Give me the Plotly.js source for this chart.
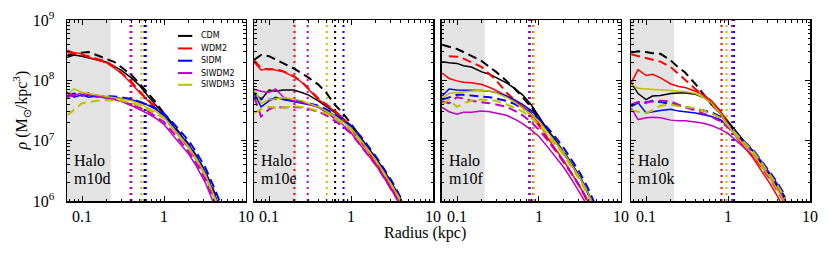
<!DOCTYPE html>
<html><head><meta charset="utf-8">
<script src="https://cdn.plot.ly/plotly-3.0.1.min.js"></script>
<style>html,body{margin:0;padding:0;background:#fff}#chart{width:830px;height:254px}</style>
</head><body><div id="chart"></div>
<script>
// ---------------- DATA ----------------
const radius = [0.066,0.08,0.1,0.12,0.15,0.2,0.25,0.3,0.4,0.5,0.63,0.8,1.0,1.3,1.6,2.0,2.5,3.2,4.0,5.0];
const models = ['CDM','WDM2','SIDM','SIWDM2','SIWDM3'];
const halos = ['m10d','m10e','m10f','m10k'];
const xTickVals = [0.1,1,10];
const xTickText = ['0.1','1','10'];
const xMinorTicks = [0.07,0.08,0.09,0.2,0.3,0.4,0.5,0.6,0.7,0.8,0.9,2,3,4,5,6,7,8,9];
const yTickVals = [1e6,1e7,1e8,1e9];
const yTickText = ['10<sup>6</sup>','10<sup>7</sup>','10<sup>8</sup>','10<sup>9</sup>'];
const yMinorTicks = [2e6,3e6,4e6,5e6,6e6,7e6,8e6,9e6,2e7,3e7,4e7,5e7,6e7,7e7,8e7,9e7,2e8,3e8,4e8,5e8,6e8,7e8,8e8,9e8];

// halo m10d
const m10d_CDM_solid    = [2.4e8,2.63e8,2.51e8,2.34e8,2.19e8,2.0e8,1.7e8,1.48e8,1.1e8,8.3e7,5.6e7,3.9e7,2.7e7,1.74e7,1.23e7,8.5e6,5.4e6,2.95e6,1.41e6,6.6e5];
const m10d_CDM_dash     = [2.57e8,2.75e8,2.88e8,2.95e8,2.63e8,2.29e8,2.0e8,1.66e8,1.23e8,8.9e7,6.3e7,4.27e7,2.82e7,1.82e7,1.26e7,8.7e6,5.5e6,3.0e6,1.51e6,7.1e5];
const m10d_WDM2_solid   = [3.16e8,2.88e8,2.75e8,2.4e8,2.19e8,1.95e8,1.58e8,1.32e8,8.9e7,6.3e7,4.68e7,3.39e7,2.51e7,1.58e7,1.12e7,7.6e6,4.8e6,2.63e6,1.26e6,6.0e5];
const m10d_WDM2_dash    = [2.95e8,2.75e8,2.63e8,2.51e8,2.29e8,2.04e8,1.66e8,1.35e8,9.5e7,6.6e7,4.79e7,3.47e7,2.57e7,1.62e7,1.15e7,7.8e6,4.9e6,2.69e6,1.29e6,6.2e5];
const m10d_SIDM_solid   = [6.3e7,5.25e7,5.75e7,5.25e7,5.5e7,5.37e7,5.25e7,5.0e7,4.79e7,4.37e7,3.89e7,3.31e7,2.63e7,1.74e7,1.23e7,8.5e6,5.4e6,2.95e6,1.41e6,6.6e5];
const m10d_SIDM_dash    = [5.5e7,6.03e7,5.62e7,5.75e7,5.37e7,5.5e7,5.37e7,5.25e7,4.9e7,4.47e7,3.98e7,3.39e7,2.82e7,1.95e7,1.41e7,1.0e7,6.3e6,3.55e6,1.78e6,8.5e5];
const m10d_SIWDM2_solid = [6.03e7,5.5e7,6.3e7,5.75e7,5.5e7,5.0e7,4.79e7,4.47e7,3.8e7,3.31e7,2.82e7,2.34e7,1.86e7,1.2e7,8.5e6,6.0e6,3.72e6,2.0e6,9.5e5,4.5e5];
const m10d_SIWDM2_dash  = [5.25e7,5.75e7,5.5e7,6.17e7,5.62e7,5.25e7,4.9e7,4.57e7,3.98e7,3.55e7,3.09e7,2.51e7,2.04e7,1.35e7,9.5e6,6.6e6,4.17e6,2.29e6,1.12e6,5.2e5];
const m10d_SIWDM3_solid = [5.75e7,7.24e7,6.3e7,6.03e7,5.62e7,5.37e7,5.13e7,4.9e7,4.57e7,4.07e7,3.55e7,3.02e7,2.45e7,1.62e7,1.15e7,7.9e6,5.0e6,2.75e6,1.32e6,6.2e5];
const m10d_SIWDM3_dash  = [2.63e7,3.31e7,4.17e7,4.37e7,4.57e7,4.68e7,4.68e7,4.57e7,4.27e7,3.8e7,3.31e7,2.82e7,2.34e7,1.55e7,1.1e7,7.6e6,4.8e6,2.63e6,1.26e6,5.9e5];

// halo m10e
const m10e_CDM_solid    = [6.3e7,4.79e7,6.9e7,6.6e7,6.9e7,6.9e7,6.3e7,5.75e7,4.57e7,3.72e7,2.95e7,2.34e7,1.74e7,1.12e7,7.9e6,5.25e6,3.31e6,1.91e6,1.12e6,6.0e5];
const m10e_CDM_dash     = [2.19e8,2.63e8,2.51e8,2.19e8,1.91e8,1.58e8,1.32e8,1.12e8,8.5e7,6.2e7,3.98e7,2.82e7,1.91e7,1.15e7,7.8e6,5.0e6,3.16e6,1.86e6,1.1e6,5.9e5];
const m10e_WDM2_solid   = [2.0e8,1.48e8,1.55e8,1.48e8,1.38e8,1.15e8,9.3e7,7.2e7,4.79e7,3.89e7,3.09e7,2.29e7,1.58e7,9.8e6,6.8e6,4.27e6,2.63e6,1.51e6,9.1e5,4.8e5];
const m10e_WDM2_dash    = [2.14e8,1.58e8,1.51e8,1.55e8,1.41e8,1.17e8,9.5e7,7.4e7,5.0e7,3.98e7,3.16e7,2.34e7,1.62e7,1.0e7,6.9e6,4.37e6,2.69e6,1.55e6,9.3e5,4.9e5];
const m10e_SIDM_solid   = [6.03e7,3.63e7,4.57e7,5.25e7,4.79e7,4.37e7,4.17e7,3.98e7,3.63e7,3.16e7,2.63e7,2.09e7,1.66e7,1.07e7,7.4e6,4.9e6,3.09e6,1.82e6,1.07e6,5.75e5];
const m10e_SIDM_dash    = [5.25e7,5.0e7,4.79e7,5.0e7,4.9e7,4.68e7,4.47e7,4.17e7,3.8e7,3.31e7,2.75e7,2.24e7,1.78e7,1.2e7,8.3e6,5.5e6,3.47e6,2.04e6,1.17e6,6.3e5];
const m10e_SIWDM2_solid = [7.1e7,6.6e7,6.3e7,7.2e7,5.25e7,4.57e7,4.27e7,4.07e7,3.55e7,2.95e7,2.34e7,1.82e7,1.35e7,8.5e6,6.0e6,3.98e6,2.51e6,1.45e6,8.7e5,4.6e5];
const m10e_SIWDM2_dash  = [5.25e7,2.51e7,3.31e7,3.63e7,3.55e7,3.63e7,3.55e7,3.39e7,3.02e7,2.63e7,2.14e7,1.7e7,1.32e7,8.5e6,6.0e6,3.98e6,2.51e6,1.45e6,8.7e5,4.6e5];
const m10e_SIWDM3_solid = [7.2e7,4.17e7,4.79e7,5.0e7,5.13e7,4.9e7,4.57e7,4.17e7,3.63e7,3.09e7,2.57e7,2.04e7,1.62e7,1.05e7,7.2e6,4.79e6,3.02e6,1.78e6,1.05e6,5.6e5];
const m10e_SIWDM3_dash  = [2.88e7,3.31e7,3.63e7,3.47e7,3.55e7,3.72e7,3.63e7,3.47e7,3.09e7,2.82e7,2.34e7,1.91e7,1.51e7,1.0e7,7.1e6,4.68e6,2.95e6,1.74e6,1.02e6,5.5e5];

// halo m10f
const m10f_CDM_solid    = [2.04e8,1.95e8,1.91e8,1.74e8,1.66e8,1.38e8,1.26e8,1.12e8,9.1e7,7.4e7,5.75e7,3.98e7,2.51e7,1.45e7,1.0e7,6.6e6,4.17e6,2.45e6,1.35e6,6.8e5];
const m10f_CDM_dash     = [3.89e8,3.63e8,3.31e8,2.95e8,2.57e8,2.09e8,1.66e8,1.38e8,9.8e7,7.4e7,5.25e7,3.63e7,2.34e7,1.41e7,9.8e6,6.5e6,4.07e6,2.4e6,1.32e6,6.6e5];
const m10f_WDM2_solid   = [1.32e8,1.07e8,9.8e7,9.3e7,9.1e7,8.5e7,7.6e7,6.8e7,5.5e7,4.57e7,3.72e7,2.88e7,1.91e7,1.07e7,7.2e6,4.68e6,2.88e6,1.66e6,9.5e5,5.0e5];
const m10f_WDM2_dash    = [null,2.51e8,2.45e8,2.29e8,2.0e8,1.66e8,1.26e8,1.0e8,6.3e7,4.79e7,3.63e7,2.69e7,1.78e7,1.0e7,6.8e6,4.47e6,2.82e6,1.66e6,9.5e5,5.0e5];
const m10f_SIDM_solid   = [5.5e7,7.2e7,6.9e7,6.9e7,6.9e7,6.8e7,6.6e7,6.3e7,5.5e7,4.79e7,3.98e7,3.16e7,2.29e7,1.38e7,9.5e6,6.3e6,3.98e6,2.34e6,1.32e6,6.6e5];
const m10f_SIDM_dash    = [4.79e7,5.25e7,5.75e7,5.75e7,5.62e7,5.5e7,5.25e7,5.0e7,4.57e7,4.07e7,3.47e7,2.88e7,2.29e7,1.58e7,1.12e7,7.6e6,4.79e6,2.82e6,1.58e6,7.9e5];
const m10f_SIWDM2_solid = [3.55e7,3.02e7,2.75e7,2.95e7,2.95e7,3.09e7,3.02e7,2.88e7,2.63e7,2.29e7,1.91e7,1.51e7,1.17e7,7.6e6,5.4e6,3.63e6,2.29e6,1.35e6,7.9e5,4.2e5];
const m10f_SIWDM2_dash  = [4.47e7,4.17e7,5.25e7,5.0e7,4.57e7,4.37e7,4.17e7,3.98e7,3.63e7,3.16e7,2.63e7,2.04e7,1.51e7,9.8e6,6.9e6,4.57e6,2.88e6,1.7e6,9.8e5,5.0e5];
const m10f_SIWDM3_solid = [5.0e7,6.03e7,6.3e7,6.46e7,6.76e7,6.9e7,6.6e7,6.17e7,5.25e7,4.37e7,3.47e7,2.75e7,2.09e7,1.32e7,9.3e6,6.3e6,3.98e6,2.34e6,1.32e6,6.6e5];
const m10f_SIWDM3_dash  = [3.98e7,4.79e7,3.63e7,4.17e7,4.57e7,4.79e7,4.68e7,4.57e7,3.98e7,3.55e7,3.02e7,2.4e7,1.86e7,1.2e7,8.5e6,5.75e6,3.63e6,2.14e6,1.2e6,6.0e5];

// halo m10k
const m10k_CDM_solid    = [9.1e7,6.03e7,4.79e7,5.5e7,5.62e7,6.03e7,6.17e7,6.17e7,5.89e7,5.25e7,4.17e7,3.02e7,2.09e7,1.32e7,9.5e6,6.8e6,4.47e6,2.75e6,1.74e6,1.05e6];
const m10k_CDM_dash     = [2.88e8,3.02e8,2.95e8,2.82e8,2.75e8,2.14e8,1.62e8,1.35e8,8.7e7,5.9e7,3.98e7,2.88e7,1.91e7,1.26e7,9.1e6,6.6e6,4.37e6,2.75e6,1.74e6,1.05e6];
const m10k_WDM2_solid   = [9.1e7,1.51e8,1.2e8,1.26e8,1.1e8,8.7e7,7.9e7,7.6e7,6.6e7,5.75e7,4.57e7,3.16e7,1.91e7,1.07e7,7.6e6,5.25e6,3.31e6,2.0e6,1.2e6,6.9e5];
const m10k_WDM2_dash    = [2.69e8,2.51e8,2.34e8,2.19e8,2.04e8,1.66e8,1.26e8,1.0e8,7.2e7,5.75e7,3.98e7,2.82e7,1.78e7,1.12e7,8.1e6,5.75e6,3.8e6,2.4e6,1.48e6,8.9e5];
const m10k_SIDM_solid   = [3.72e7,4.27e7,2.88e7,3.02e7,3.16e7,3.31e7,3.09e7,3.02e7,2.88e7,2.69e7,2.51e7,2.24e7,1.78e7,1.2e7,9.1e6,6.9e6,4.68e6,2.95e6,1.91e6,1.15e6];
const m10k_SIDM_dash    = [3.72e7,4.27e7,4.27e7,4.57e7,4.37e7,4.07e7,3.8e7,3.63e7,3.39e7,3.16e7,2.95e7,2.51e7,1.86e7,1.26e7,9.5e6,7.2e6,4.9e6,3.09e6,2.0e6,1.2e6];
const m10k_SIWDM2_solid = [3.47e7,2.24e7,2.4e7,2.45e7,2.4e7,2.19e7,2.14e7,2.14e7,2.04e7,1.95e7,1.78e7,1.55e7,1.32e7,9.5e6,7.6e6,5.75e6,3.98e6,2.51e6,1.58e6,9.5e5];
const m10k_SIWDM2_dash  = [3.98e7,4.37e7,4.37e7,4.47e7,4.57e7,4.47e7,3.98e7,3.55e7,3.16e7,2.82e7,2.51e7,2.09e7,1.66e7,1.15e7,8.7e6,6.5e6,4.27e6,2.69e6,1.66e6,1.0e6];
const m10k_SIWDM3_solid = [8.5e7,7.4e7,7.2e7,7.1e7,6.9e7,6.8e7,6.6e7,6.5e7,6.03e7,5.25e7,4.17e7,2.88e7,1.78e7,1.12e7,8.3e6,6.0e6,3.98e6,2.51e6,1.55e6,9.1e5];
const m10k_SIWDM3_dash  = [3.16e7,3.02e7,2.88e7,3.16e7,3.8e7,3.98e7,3.72e7,3.63e7,3.47e7,3.16e7,2.82e7,2.4e7,1.82e7,1.23e7,9.1e6,6.8e6,4.57e6,2.88e6,1.82e6,1.1e6];

// characteristic radii (dotted lines), order = models
const rcore_m10d = [0.58,0.40,0.60,0.39,0.53];
const rcore_m10e = [0.64,0.204,0.81,0.296,0.506];
const rcore_m10f = [0.76,0.85,0.77,0.76,0.86];
const rcore_m10k = [1.17,0.835,1.18,1.12,0.96];
// resolution limit (shaded)
const resLimit = [0.224,0.214,0.218,0.22];

// ---------------- BUILD ----------------
const profiles = {
  m10d:{CDM:[m10d_CDM_solid,m10d_CDM_dash],WDM2:[m10d_WDM2_solid,m10d_WDM2_dash],SIDM:[m10d_SIDM_solid,m10d_SIDM_dash],SIWDM2:[m10d_SIWDM2_solid,m10d_SIWDM2_dash],SIWDM3:[m10d_SIWDM3_solid,m10d_SIWDM3_dash]},
  m10e:{CDM:[m10e_CDM_solid,m10e_CDM_dash],WDM2:[m10e_WDM2_solid,m10e_WDM2_dash],SIDM:[m10e_SIDM_solid,m10e_SIDM_dash],SIWDM2:[m10e_SIWDM2_solid,m10e_SIWDM2_dash],SIWDM3:[m10e_SIWDM3_solid,m10e_SIWDM3_dash]},
  m10f:{CDM:[m10f_CDM_solid,m10f_CDM_dash],WDM2:[m10f_WDM2_solid,m10f_WDM2_dash],SIDM:[m10f_SIDM_solid,m10f_SIDM_dash],SIWDM2:[m10f_SIWDM2_solid,m10f_SIWDM2_dash],SIWDM3:[m10f_SIWDM3_solid,m10f_SIWDM3_dash]},
  m10k:{CDM:[m10k_CDM_solid,m10k_CDM_dash],WDM2:[m10k_WDM2_solid,m10k_WDM2_dash],SIDM:[m10k_SIDM_solid,m10k_SIDM_dash],SIWDM2:[m10k_SIWDM2_solid,m10k_SIWDM2_dash],SIWDM3:[m10k_SIWDM3_solid,m10k_SIWDM3_dash]}
};
const rcores = {m10d:rcore_m10d,m10e:rcore_m10e,m10f:rcore_m10f,m10k:rcore_m10k};

const colors = {CDM:'#000000',WDM2:'#ff0000',SIDM:'#0000ff',SIWDM2:'#bf00bf',SIWDM3:'#bfbf00'};
const SERIF = 'Liberation Serif, Times New Roman, serif';
const SANS = 'DejaVu Sans, sans-serif';
const domains = [[0,0.2409],[0.2517,0.4926],[0.5047,0.7456],[0.7591,1]];

const traces = [];
const shapes = [];
const annotations = [];
const layout = {
  width:830, height:254,
  margin:{l:67,r:20,t:20,b:53},
  paper_bgcolor:'#ffffff', plot_bgcolor:'#ffffff',
  font:{family:SERIF,size:16,color:'#000'},
  showlegend:false
};

halos.forEach((h,i)=>{
  const s = i===0 ? '' : String(i+1);
  const xa = 'x'+s, ya = 'y'+s;
  models.forEach(m=>{
    const [sol,dsh] = profiles[h][m];
    traces.push({x:radius,y:dsh,xaxis:xa,yaxis:ya,mode:'lines',name:m+' (dashed)',
      line:{color:colors[m],width:2,dash:'9px,5px'},hoverinfo:'skip',connectgaps:false});
    traces.push({x:radius,y:sol,xaxis:xa,yaxis:ya,mode:'lines',name:m,
      line:{color:colors[m],width:1.5},hoverinfo:'skip'});
  });
  layout['xaxis'+s] = {
    type:'log', domain:domains[i], anchor:ya, range:[Math.log10(0.0656),1],
    tickmode:'array', tickvals:xTickVals, ticktext:xTickText,
    ticks:'inside', ticklen:5, tickwidth:1, tickcolor:'#000',
    minor:{tickmode:'array', tickvals:xMinorTicks, ticks:'inside', ticklen:2.5, tickwidth:1, tickcolor:'#000', showgrid:false},
    showline:true, linewidth:1.5, linecolor:'#000', mirror:'allticks',
    showgrid:false, zeroline:false, tickfont:{family:SERIF,size:16}, ticklabelstandoff:0
  };
  layout['yaxis'+s] = {
    type:'log', domain:[0,1], anchor:xa, range:[6,9],
    tickmode:'array', tickvals:yTickVals, ticktext:yTickText, showticklabels:i===0,
    ticks:'inside', ticklen:5, tickwidth:1, tickcolor:'#000',
    minor:{tickmode:'array', tickvals:yMinorTicks, ticks:'inside', ticklen:2.5, tickwidth:1, tickcolor:'#000', showgrid:false},
    showline:true, linewidth:1.5, linecolor:'#000', mirror:'allticks',
    showgrid:false, zeroline:false, tickfont:{family:SERIF,size:16}, ticklabelstandoff:8
  };
  shapes.push({type:'rect',xref:xa,yref:ya+' domain',x0:0.01,x1:resLimit[i],y0:0,y1:1,
    fillcolor:'#e3e3e3',line:{width:0},layer:'below'});
  models.forEach((m,j)=>{
    const rc = rcores[h][j];
    shapes.push({type:'line',xref:xa,yref:ya+' domain',x0:rc,x1:rc,y0:0,y1:1,
      line:{color:colors[m],width:2,dash:'2px,4px'},layer:'below'});
  });
  annotations.push({xref:xa+' domain',yref:ya+' domain',x:0.028,y:0.221,xanchor:'left',yanchor:'middle',
    text:'Halo',showarrow:false,font:{family:SERIF,size:16}});
  annotations.push({xref:xa+' domain',yref:ya+' domain',x:0.028,y:0.127,xanchor:'left',yanchor:'middle',
    text:h,showarrow:false,font:{family:SERIF,size:16}});
});

// manual legend in first panel
const legY = [0.912,0.843,0.775,0.707,0.642];
models.forEach((m,j)=>{
  shapes.push({type:'line',xref:'x domain',yref:'y domain',x0:0.62,x1:0.70,y0:legY[j],y1:legY[j],
    line:{color:colors[m],width:2}});
  annotations.push({xref:'x domain',yref:'y domain',x:0.735,y:legY[j],xanchor:'left',yanchor:'middle',
    text:m,showarrow:false,font:{family:SANS,size:8}});
});

// axis titles
annotations.push({xref:'paper',yref:'paper',x:0.482,y:-0.175,xanchor:'center',yanchor:'middle',
  text:'Radius (kpc)',showarrow:false,font:{family:SERIF,size:16}});
annotations.push({xref:'paper',yref:'paper',x:-0.062,y:0.5,xanchor:'center',yanchor:'middle',textangle:-90,
  text:'<i>ρ</i> (M<sub>⊙</sub>/kpc<sup>3</sup>)',showarrow:false,font:{family:SERIF,size:16}});

layout.shapes = shapes;
layout.annotations = annotations;

Plotly.newPlot('chart',traces,layout,{displayModeBar:false,staticPlot:true});
</script></body></html>
